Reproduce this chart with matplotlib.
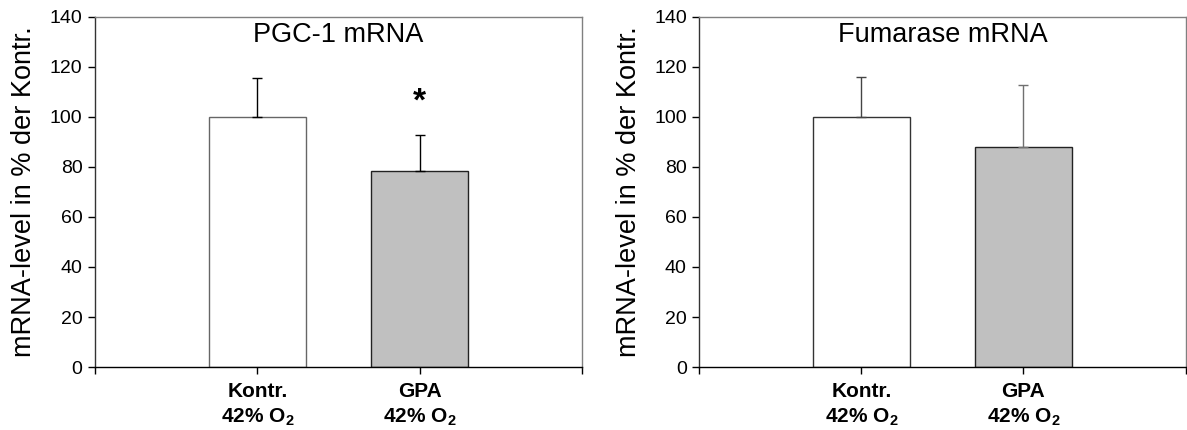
import numpy as np
import matplotlib.pyplot as plt

plt.rcParams['font.family'] = ['Liberation Sans', 'DejaVu Sans']
plt.rcParams['mathtext.fontset'] = 'custom'
plt.rcParams['mathtext.rm'] = 'Liberation Sans'
plt.rcParams['mathtext.bf'] = 'Liberation Sans:bold'

# data
groups = ['Kontr.', 'GPA']
group_labels = [r'Kontr.' + '\n' + r'42% O$_\mathbf{2}$', r'GPA' + '\n' + r'42% O$_\mathbf{2}$']
titles = ['PGC-1 mRNA', 'Fumarase mRNA']
pgc_mean = [100, 78.3]
pgc_err = [15.5, 14.5]
fum_mean = [100, 88.1]
fum_err = [15.9, 24.8]
ylabel = 'mRNA-level in % der Kontr.'

bar_fill = ['white', '#c0c0c0']

fig = plt.figure(figsize=(11.87, 4.30), dpi=100)
ax1 = fig.add_axes([0.0800, 0.1465, 0.4103, 0.814])
ax2 = fig.add_axes([0.5891, 0.1465, 0.4097, 0.814])

panels = [
    (ax1, titles[0], pgc_mean, pgc_err, ['#666666', '#222222'], ['black', 'black']),
    (ax2, titles[1], fum_mean, fum_err, ['#333333', '#222222'], ['#444444', '#707070']),
]

x = np.array([1, 2])
for ax, title, means, errs, edges, ecols in panels:
    for i in range(2):
        ax.bar(x[i], means[i], width=0.6, color=bar_fill[i], edgecolor=edges[i],
               linewidth=1.0, zorder=2)
        ax.errorbar(x[i], means[i], yerr=[[0], [errs[i]]], fmt='none',
                    ecolor=ecols[i], elinewidth=1.0, capsize=3.8, capthick=1.0, zorder=3)
    ax.set_xlim(0, 3)
    ax.set_ylim(0, 140)
    ax.set_yticks(np.arange(0, 141, 20))
    ax.set_xticks([0, 1, 2, 3])
    ax.set_xticklabels([''] + group_labels + [''], fontsize=15, fontweight='bold',
                       linespacing=1.3)
    ax.tick_params(axis='y', direction='out', length=5, width=1, labelsize=14, pad=4)
    ax.tick_params(axis='x', direction='out', length=5, width=1, pad=6)
    ax.set_ylabel(ylabel, fontsize=19.5, labelpad=9)
    ax.text(0.5, 0.949, title, transform=ax.transAxes, ha='center', va='center',
            fontsize=19.5)
    ax.spines['top'].set_color('#808080')
    ax.spines['right'].set_color('#808080')
    ax.spines['left'].set_color('#333333')
    ax.spines['bottom'].set_color('black')
    for s in ax.spines.values():
        s.set_linewidth(1.0)

# significance marker
ax1.text(x[1], 106, '*', ha='center', va='center', fontsize=24, fontweight='bold')

fig.savefig('out.png', dpi=100)
